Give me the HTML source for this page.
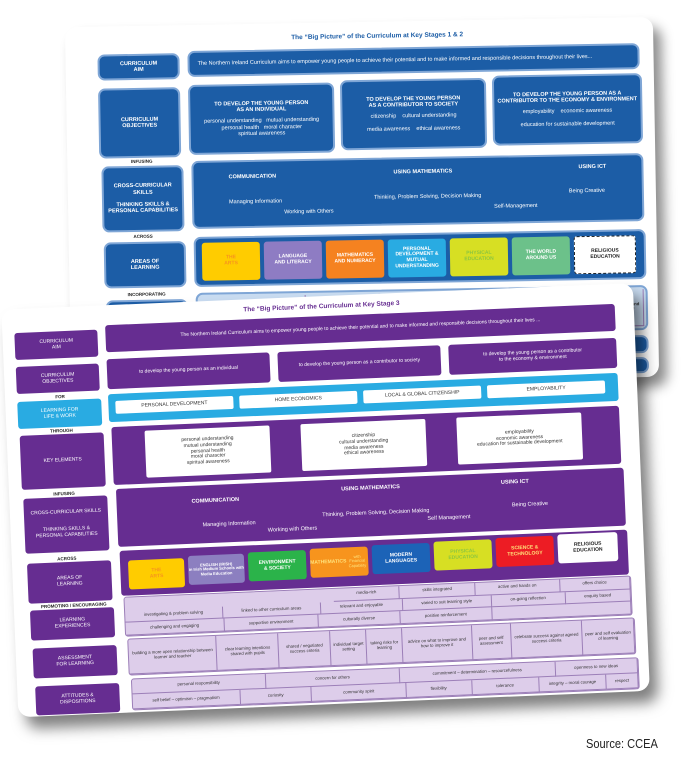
<!DOCTYPE html>
<html><head><meta charset="utf-8"><style>
*{box-sizing:border-box;margin:0;padding:0}
body{width:700px;height:758px;background:#fff;position:relative;overflow:hidden;font-family:"Liberation Sans",sans-serif}
.layer{position:absolute;left:0;top:0;width:700px;height:758px}
.a{position:absolute;display:flex;align-items:center;justify-content:center;text-align:center;line-height:1.15}
.card{position:absolute;background:#fff;border-radius:12px}
.b{background:#1c5da6;border:2px solid #7fa6d6;border-radius:7px;color:#fff;font-size:5.5px;font-weight:bold}
.p{background:#662d91;border-radius:3px;color:#fff;font-size:5px}
.w{background:#fff;color:#333;font-size:5px;border-radius:2px}
.t{font-size:4.5px;font-weight:bold;color:#222}
.row{display:flex;width:100%;height:50%}
.row div{flex:1 1 auto;border-right:1px solid #9c7fb8;border-bottom:1px solid #9c7fb8;display:flex;align-items:center;justify-content:center;text-align:center;font-size:4.3px;color:#333;padding:0 2px;line-height:1.15}
.lav{background:#ddcdea;border:1.5px solid #9c7fb8;border-radius:3px;overflow:hidden}
.tile{position:absolute;top:4px;bottom:4px;display:flex;align-items:center;justify-content:center;text-align:center;font-size:5px;color:#fff;border-radius:3px;line-height:1.15;font-weight:bold}
</style></head><body>

<!-- BACK CARD -->
<div class="layer" style="transform:rotate(-1deg);transform-origin:362px 200px">
<div class="card" style="left:68px;top:22px;width:588px;height:360px;box-shadow:8px 10px 12px rgba(0,0,0,.45)"></div>
<div class="a" style="left:190px;top:32px;width:380px;height:10px;font-size:6.5px;font-weight:bold;color:#1c5da6">The “Big Picture” of the Curriculum at Key Stages 1 &amp; 2</div>
<div class="a b" style="left:100px;top:50px;width:82px;height:26px">CURRICULUM<br>AIM</div>
<div class="a b" style="left:190px;top:48px;width:452px;height:26px;justify-content:flex-start;padding-left:8px;font-weight:normal">The Northern Ireland Curriculum aims to empower young people to achieve their potential and to make informed and responsible decisions throughout their lives...</div>
<div class="a b" style="left:100px;top:84px;width:82px;height:70px">CURRICULUM<br>OBJECTIVES</div>
<div class="a b" style="left:190px;top:82px;width:146px;height:70px;flex-direction:column"><span>TO DEVELOP THE YOUNG PERSON<br>AS AN INDIVIDUAL</span><span style="font-weight:normal;margin-top:5px">personal understanding &nbsp; mutual understanding<br>personal health &nbsp; moral character<br>spiritual awareness</span></div>
<div class="a b" style="left:342px;top:80px;width:146px;height:70px;flex-direction:column"><span>TO DEVELOP THE YOUNG PERSON<br>AS A CONTRIBUTOR TO SOCIETY</span><span style="font-weight:normal;margin-top:5px">citizenship &nbsp;&nbsp; cultural understanding<br><br>media awareness &nbsp;&nbsp; ethical awareness</span></div>
<div class="a b" style="left:494px;top:78px;width:150px;height:70px;flex-direction:column"><span>TO DEVELOP THE YOUNG PERSON AS A<br>CONTRIBUTOR TO THE ECONOMY &amp; ENVIRONMENT</span><span style="font-weight:normal;margin-top:5px">employability &nbsp;&nbsp; economic awareness<br><br>education for sustainable development</span></div>
<div class="a t" style="left:120px;top:155px;width:45px;height:6px">INFUSING</div>
<div class="a b" style="left:102px;top:162px;width:82px;height:66px">CROSS-CURRICULAR<br>SKILLS<br><br>THINKING SKILLS &amp;<br>PERSONAL CAPABILITIES</div>
<div class="a b" style="left:192px;top:158px;width:452px;height:68px;font-size:5.5px"><span style="position:absolute;left:35px;top:12px">COMMUNICATION</span><span style="position:absolute;left:200px;top:10px">USING MATHEMATICS</span><span style="position:absolute;left:385px;top:8px">USING ICT</span><span style="position:absolute;left:35px;top:37px;font-weight:normal">Managing Information</span><span style="position:absolute;left:90px;top:48px;font-weight:normal">Working with Others</span><span style="position:absolute;left:180px;top:35px;font-weight:normal">Thinking, Problem Solving, Decision Making</span><span style="position:absolute;left:300px;top:46px;font-weight:normal">Self-Management</span><span style="position:absolute;left:375px;top:32px;font-weight:normal">Being Creative</span></div>
<div class="a t" style="left:120px;top:230px;width:45px;height:6px">ACROSS</div>
<div class="a b" style="left:103px;top:238px;width:82px;height:46px">AREAS OF<br>LEARNING</div>
<div class="a b" style="left:193px;top:234px;width:452px;height:50px">
<div class="tile" style="left:6px;width:58px;background:#ffcc00;color:#f7941d">THE<br>ARTS</div>
<div class="tile" style="left:68px;width:58px;background:#8e7cc3">LANGUAGE<br>AND LITERACY</div>
<div class="tile" style="left:130px;width:58px;background:#f58220">MATHEMATICS<br>AND NUMERACY</div>
<div class="tile" style="left:192px;width:58px;background:#29abe2">PERSONAL<br>DEVELOPMENT &amp;<br>MUTUAL<br>UNDERSTANDING</div>
<div class="tile" style="left:254px;width:58px;background:#d7df23;color:#8dc63f">PHYSICAL<br>EDUCATION</div>
<div class="tile" style="left:316px;width:58px;background:#6cc18a">THE WORLD<br>AROUND US</div>
<div class="tile" style="left:378px;width:62px;background:#fff;color:#222;border:1.5px dashed #222">RELIGIOUS<br>EDUCATION</div>
</div>
<div class="a t" style="left:115px;top:288px;width:60px;height:6px">INCORPORATING</div>
<div class="a b" style="left:104px;top:296px;width:82px;height:50px">ASSESSMENT<br>FOR LEARNING</div>
<div class="a b" style="left:194px;top:290px;width:452px;height:45px;background:#c9dcf1;padding:2px"><div class="row" style="height:100%"><div>building a more open relationship between learner and teacher</div><div>clear learning intentions shared with pupils</div><div>shared / negotiated success</div><div>individual target setting</div><div>taking risks for learning</div><div>advice on what to improve</div><div>peer and self</div><div>celebration</div><div>peer and self</div></div></div>
<div class="a b" style="left:194px;top:340px;width:452px;height:18px"></div>
<div class="a b" style="left:194px;top:362px;width:452px;height:16px"></div>
</div>

<!-- FRONT CARD -->
<div class="layer" style="transform:rotate(-2.4deg);transform-origin:330px 510px">
<div class="card" style="left:10px;top:296px;width:632px;height:408px;box-shadow:8px 12px 14px rgba(0,0,0,.5)"></div>
<div class="a" style="left:180px;top:302px;width:300px;height:10px;font-size:6.5px;font-weight:bold;color:#662d91">The “Big Picture” of the Curriculum at Key Stage 3</div>
<div class="a p" style="left:22px;top:320px;width:83px;height:27px">CURRICULUM<br>AIM</div>
<div class="a p" style="left:113px;top:316px;width:510px;height:27px">The Northern Ireland Curriculum aims to empower young people to achieve their potential and to make informed and responsible decisions throughout their lives ...</div>
<div class="a p" style="left:22px;top:354px;width:83px;height:27px">CURRICULUM<br>OBJECTIVES</div>
<div class="a p" style="left:113px;top:350px;width:163px;height:30px">to develop the young person as an individual</div>
<div class="a p" style="left:284px;top:350px;width:163px;height:30px">to develop the young person as a contributor to society</div>
<div class="a p" style="left:455px;top:350px;width:168px;height:30px">to develop the young person as a contributor<br>to the economy &amp; environment</div>
<div class="a t" style="left:50px;top:383px;width:30px;height:6px">FOR</div>
<div class="a p" style="left:22px;top:389px;width:84px;height:27px;background:#29abe2">LEARNING FOR<br>LIFE &amp; WORK</div>
<div class="a" style="left:113px;top:385px;width:510px;height:28px;background:#29abe2;border-radius:3px"></div>
<div class="a w" style="left:120px;top:392px;width:118px;height:13px">PERSONAL DEVELOPMENT</div>
<div class="a w" style="left:244px;top:392px;width:118px;height:13px">HOME ECONOMICS</div>
<div class="a w" style="left:368px;top:392px;width:118px;height:13px">LOCAL &amp; GLOBAL CITIZENSHIP</div>
<div class="a w" style="left:492px;top:392px;width:118px;height:13px">EMPLOYABILITY</div>
<div class="a t" style="left:45px;top:417px;width:40px;height:6px">THROUGH</div>
<div class="a p" style="left:23px;top:423px;width:84px;height:54px">KEY ELEMENTS</div>
<div class="a p" style="left:115px;top:418px;width:508px;height:58px"></div>
<div class="a w" style="left:148px;top:423px;width:125px;height:47px">personal understanding<br>mutual understanding<br>personal health<br>moral character<br>spiritual awareness</div>
<div class="a w" style="left:304px;top:423px;width:125px;height:47px">citizenship<br>cultural understanding<br>media awareness<br>ethical awareness</div>
<div class="a w" style="left:460px;top:423px;width:125px;height:47px">employability<br>economic awareness<br>education for sustainable development</div>
<div class="a t" style="left:45px;top:480px;width:40px;height:6px">INFUSING</div>
<div class="a p" style="left:24px;top:486px;width:84px;height:55px;flex-direction:column">CROSS-CURRICULAR SKILLS<br><br><br>THINKING SKILLS &amp;<br>PERSONAL CAPABILITIES</div>
<div class="a p" style="left:117px;top:480px;width:508px;height:58px;font-size:5.5px">
<span style="position:absolute;left:75px;top:13px;font-weight:bold">COMMUNICATION</span><span style="position:absolute;left:225px;top:7px;font-weight:bold">USING MATHEMATICS</span><span style="position:absolute;left:385px;top:7px;font-weight:bold">USING ICT</span>
<span style="position:absolute;left:85px;top:37px">Managing Information</span><span style="position:absolute;left:150px;top:45px">Working with Others</span><span style="position:absolute;left:205px;top:32px">Thinking, Problem Solving, Decision Making</span><span style="position:absolute;left:310px;top:40px">Self Management</span><span style="position:absolute;left:395px;top:30px">Being Creative</span></div>
<div class="a t" style="left:45px;top:545px;width:40px;height:6px">ACROSS</div>
<div class="a p" style="left:25px;top:551px;width:84px;height:40px">AREAS OF<br>LEARNING</div>
<div class="a p" style="left:118px;top:542px;width:508px;height:45px">
<div class="tile" style="left:8px;width:56px;background:#ffcc00;color:#f7941d;top:10px;bottom:6px">THE<br>ARTS</div>
<div class="tile" style="left:68px;width:56px;background:#8c7fc0;font-size:4px;top:8px;bottom:8px">ENGLISH (IRISH)<br>in Irish Medium Schools with Media Education</div>
<div class="tile" style="left:128px;width:58px;background:#2bb34a;top:7px;bottom:9px">ENVIRONMENT<br>&amp; SOCIETY</div>
<div class="tile" style="left:190px;width:58px;background:#f7941d;color:#ffe27a;top:6px;bottom:10px">MATHEMATICS<br><span style="font-weight:normal;font-size:4px">with Financial Capability</span></div>
<div class="tile" style="left:252px;width:58px;background:#1c63b7;top:5px;bottom:11px">MODERN<br>LANGUAGES</div>
<div class="tile" style="left:314px;width:58px;background:#d7df23;color:#8dc63f;top:4px;bottom:12px">PHYSICAL<br>EDUCATION</div>
<div class="tile" style="left:376px;width:58px;background:#ed1c24;color:#ffe27a;top:3px;bottom:13px">SCIENCE &amp;<br>TECHNOLOGY</div>
<div class="tile" style="left:438px;width:60px;background:#fff;color:#222;top:2px;bottom:14px">RELIGIOUS<br>EDUCATION</div></div>
<div class="a t" style="left:30px;top:592px;width:80px;height:6px">PROMOTING / ENCOURAGING</div>
<div class="a p" style="left:26px;top:598px;width:84px;height:30px">LEARNING<br>EXPERIENCES</div>
<div class="lav" style="position:absolute;left:120px;top:588px;width:508px;height:40px">
<div class="row" style="height:33%"><div style="flex:5;border:none;background:#ddcdea"></div><div>media-rich</div><div>skills integrated</div><div>active and hands on</div><div>offers choice</div></div>
<div class="row" style="height:33%"><div>investigating &amp; problem solving</div><div>linked to other curriculum areas</div><div>relevant and enjoyable</div><div>varied to suit learning style</div><div>on-going reflection</div><div>enquiry based</div></div>
<div class="row" style="height:34%"><div>challenging and engaging</div><div>supportive environment</div><div>culturally diverse</div><div>positive reinforcement</div><div style="flex:3"></div></div></div>
<div class="a p" style="left:27px;top:636px;width:84px;height:30px">ASSESSMENT<br>FOR LEARNING</div>
<div class="lav" style="position:absolute;left:122px;top:630px;width:508px;height:37px"><div class="row" style="height:100%">
<div>building a more open relationship between learner and teacher</div><div>clear learning intentions shared with pupils</div><div>shared / negotiated success criteria</div><div>individual target setting</div><div>taking risks for learning</div><div>advice on what to improve and how to improve it</div><div>peer and self assessment</div><div>celebrate success against agreed success criteria</div><div>peer and self evaluation of learning</div></div></div>
<div class="a p" style="left:28px;top:674px;width:84px;height:29px">ATTITUDES &amp;<br>DISPOSITIONS</div>
<div class="lav" style="position:absolute;left:124px;top:670px;width:508px;height:32px">
<div class="row"><div style="flex:3">personal responsibility</div><div style="flex:3">concern for others</div><div style="flex:3.5">commitment – determination – resourcefulness</div><div style="flex:1.8">openness to new ideas</div></div>
<div class="row"><div style="flex:2.3">self belief – optimism – pragmatism</div><div style="flex:1.5">curiosity</div><div style="flex:2">community spirit</div><div>flexibility</div><div>tolerance</div><div style="flex:1.4">integrity – moral courage</div><div style="flex:.6">respect</div></div></div>
</div>

<div style="position:absolute;left:586px;top:736px;font-size:13px;color:#222;transform:scaleX(.85);transform-origin:left">Source: CCEA</div>
</body></html>
